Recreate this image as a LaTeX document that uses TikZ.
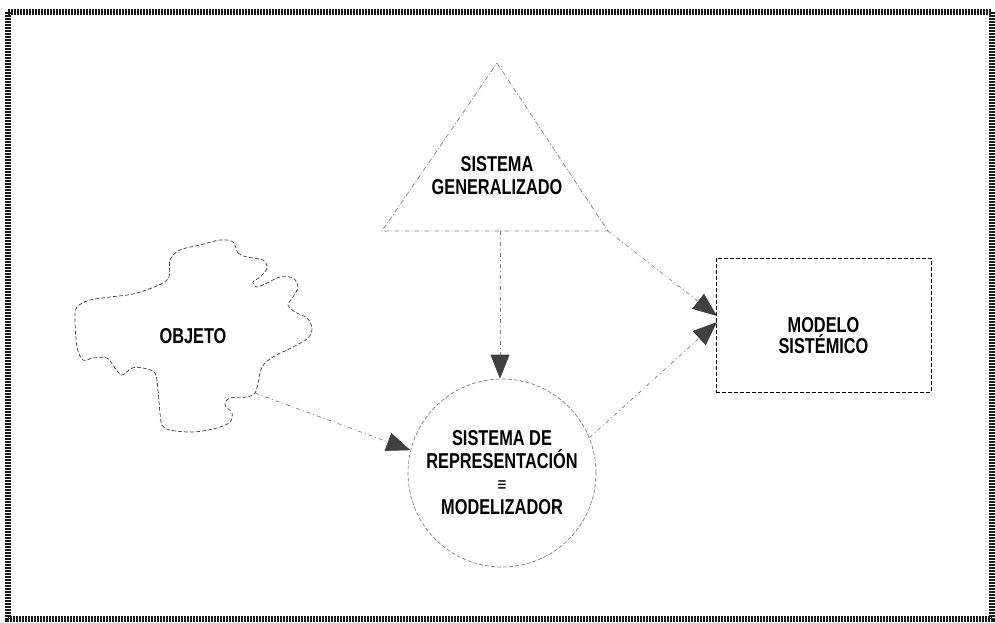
\documentclass[tikz,border=0pt]{standalone}
\usepackage{fontspec}
\setmainfont{Liberation Sans}[FakeStretch=0.76]
\usetikzlibrary{arrows.meta}

\tikzset{
	label text/.style = {font=\bfseries\fontsize{21.5}{23}\selectfont, align=center, inner sep=0pt},
	link/.style = {gray, line width=0.7pt, dash pattern=on 4pt off 3pt on 1pt off 3pt,
		-{Triangle[length=24pt, width=19pt, color=black!75, fill=black!75]}},
	outline/.style = {black!75, line width=0.7pt, dash pattern=on 4pt off 2pt},
}

\begin{document}
\begin{tikzpicture}[x = 1pt, y = -1pt]
	\useasboundingbox (0,0) rectangle (995,622);
	\draw[black!90, line width = 5.5pt, dash pattern = on 2pt off 1pt] (8,12) rectangle (992,619);
	
	% objeto
	\draw[outline] plot[smooth cycle, tension = 0.55] coordinates {
		(233,242) (238,253) (247,257) (263,260) (267,268) (260,277) (253,282) (257,287)
		(267,283) (280,277) (293,278) (298,287) (293,297) (288,305) (295,312) (307,318)
		(312,328) (308,338) (293,347) (273,357) (262,367) (258,383) (255,393) (247,397)
		(230,398) (225,405) (232,413) (230,422) (217,428) (193,432) (170,430) (162,425)
		(160,413) (158,390) (155,373) (143,368) (132,368) (122,375) (115,368) (107,358)
		(93,358) (83,360) (77,347) (75,320) (77,307) (90,300) (110,297) (137,293)
		(167,280) (170,260) (180,250) (200,245) (220,240)};
	\node[label text] (objeto) at (193,336) {OBJETO};
	\coordinate (objout) at (255,393);
	
	% sistema generalizado
	\coordinate (apex) at (497,63);
	\coordinate (baseL) at (382,231);
	\coordinate (baseR) at (608,231);
	\coordinate (baseM) at (500,231);
	\draw[outline, gray, dash pattern = on 5pt off 2pt on 1pt off 2pt] (apex) -- (baseR) -- (baseL) -- cycle;
	\node[label text] (generalizado) at (497,176) {SISTEMA\\GENERALIZADO};
	
	% modelizador
	\node[draw, circle, outline, gray, minimum size = 188pt, inner sep = 0pt, text = black,
		label text] (modelizador) at (502,473) {SISTEMA DE\\REPRESENTACIÓN\\{\fontsize{20}{23}\selectfont ≡}\\MODELIZADOR};
	
	% modelo sistemico
	\node[draw, outline, black, minimum width = 215pt, minimum height = 134pt] (modelo) at (823.5,325) {};
	\node[label text, font=\bfseries\fontsize{21.5}{21}\selectfont, yshift = -11pt] (modelotxt) at (modelo.center) {MODELO\\SISTÉMICO};
	\coordinate (inA) at (717,316);
	\coordinate (inB) at (717,322);
	
	\draw[link] (objout) -- (modelizador.166);
	\draw[link] (baseM) -- (baseM |- modelizador.north);
	\draw[link] (baseR) -- (inA);
	\draw[link] (modelizador.22) -- (inB);
	
\end{tikzpicture}
\end{document}
